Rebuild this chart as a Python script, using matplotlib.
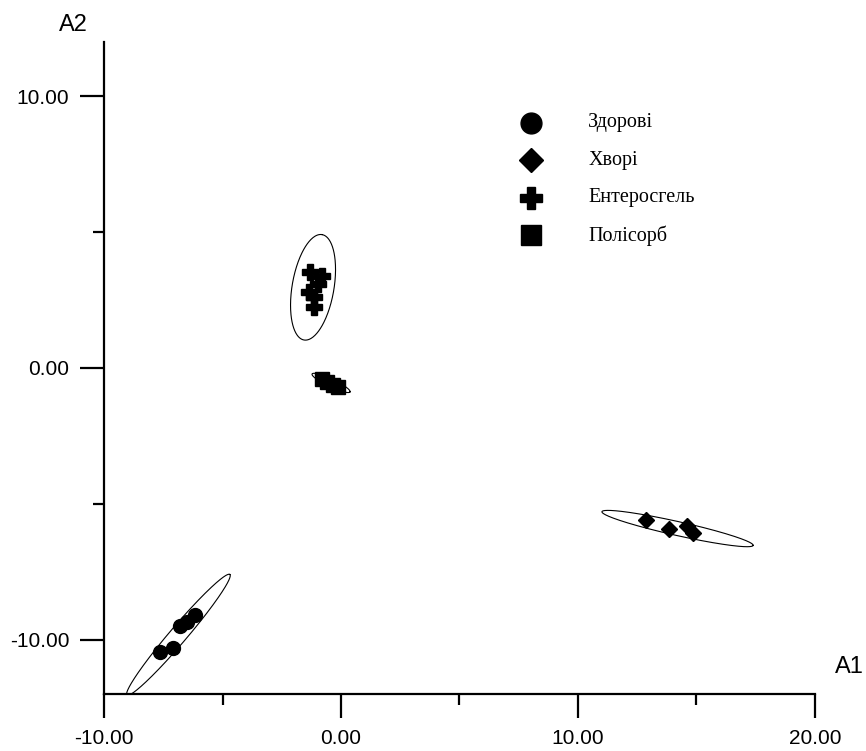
import numpy as np
import matplotlib
matplotlib.use("Agg")
import matplotlib.pyplot as plt

# group labels and markers
labels = ["Здорові", "Хворі", "Ентеросгель", "Полісорб"]
markers = ["o", "D", "P", "s"]

# discriminant scores (A1, A2)
healthy_a1 = [-7.64, -7.09, -6.79, -6.50, -6.16]
healthy_a2 = [-10.46, -10.31, -9.50, -9.36, -9.10]
sick_a1 = [12.87, 13.84, 14.60, 14.85]
sick_a2 = [-5.61, -5.91, -5.83, -6.09]
entero_a1 = [-1.31, -0.80, -0.97, -1.35, -1.15, -1.12]
entero_a2 = [3.52, 3.37, 3.08, 2.79, 2.60, 2.24]
poly_a1 = [-0.80, -0.59, -0.34, -0.13]
poly_a2 = [-0.40, -0.51, -0.62, -0.70]

# confidence ellipses: centre, half major axis vector, half minor axis vector
ell_centre = [(-6.86, -9.82), (14.20, -5.91), (-1.18, 2.97), (-0.42, -0.55)]
ell_major = [(2.17, 2.22), (3.19, -0.62), (0.38, 1.94), (0.80, -0.33)]
ell_minor = [(0.27, -0.20), (-0.065, -0.25), (0.87, -0.13), (-0.07, -0.13)]

xticks = [-10, 0, 10, 20]
yticks = [-10, 0, 10]

groups = [(healthy_a1, healthy_a2), (sick_a1, sick_a2),
          (entero_a1, entero_a2), (poly_a1, poly_a2)]
sizes = [10, 8, 11, 10]

fig = plt.figure(figsize=(8.66, 7.51), dpi=100)
ax = fig.add_axes([0.1201, 0.0759, 0.8210, 0.8682])

t = np.linspace(0, 2 * np.pi, 300)
for (cx, cy), (mx, my), (nx, ny) in zip(ell_centre, ell_major, ell_minor):
    ax.plot(cx + mx * np.cos(t) + nx * np.sin(t),
            cy + my * np.cos(t) + ny * np.sin(t), color="black", lw=0.8)

for (xs, ys), m, s in zip(groups, markers, sizes):
    ax.plot(xs, ys, linestyle="none", marker=m, markersize=s, color="black")

# legend drawn by hand
for i, (lab, m, s) in enumerate(zip(labels, markers, sizes)):
    yy = 0.876 - i * 0.0575
    ax.plot(0.6006, yy, marker=m, markersize=s * 1.5, color="black",
            transform=ax.transAxes, clip_on=False)
    ax.text(0.681, yy, lab, transform=ax.transAxes, va="center", ha="left",
            fontsize=14.5, family=["Liberation Serif", "DejaVu Serif"])

ax.set_xlim(-10, 20)
ax.set_ylim(-12, 12)
for side in ["top", "right"]:
    ax.spines[side].set_visible(False)
for side in ["left", "bottom"]:
    ax.spines[side].set_linewidth(1.6)

ax.set_xticks(xticks)
ax.set_xticklabels(["%.2f" % v for v in xticks])
ax.set_yticks(yticks)
ax.set_yticklabels(["%.2f" % v for v in yticks])
ax.set_xticks([-5, 5, 15], minor=True)
ax.set_yticks([-5, 5], minor=True)
ax.tick_params(which="major", length=17, width=1.6, pad=8)
ax.tick_params(which="minor", length=8, width=1.6)
for lab in ax.get_xticklabels() + ax.get_yticklabels():
    lab.set_family(["Liberation Sans", "DejaVu Sans"])
    lab.set_fontsize(15)

fig.text(73 / 866, 1 - 25 / 751, "A2", ha="center", va="center",
         fontsize=17, family=["Liberation Sans", "DejaVu Sans"])
fig.text(849 / 866, 1 - 667 / 751, "A1", ha="center", va="center",
         fontsize=17, family=["Liberation Sans", "DejaVu Sans"])

fig.savefig("out.png", dpi=100)
